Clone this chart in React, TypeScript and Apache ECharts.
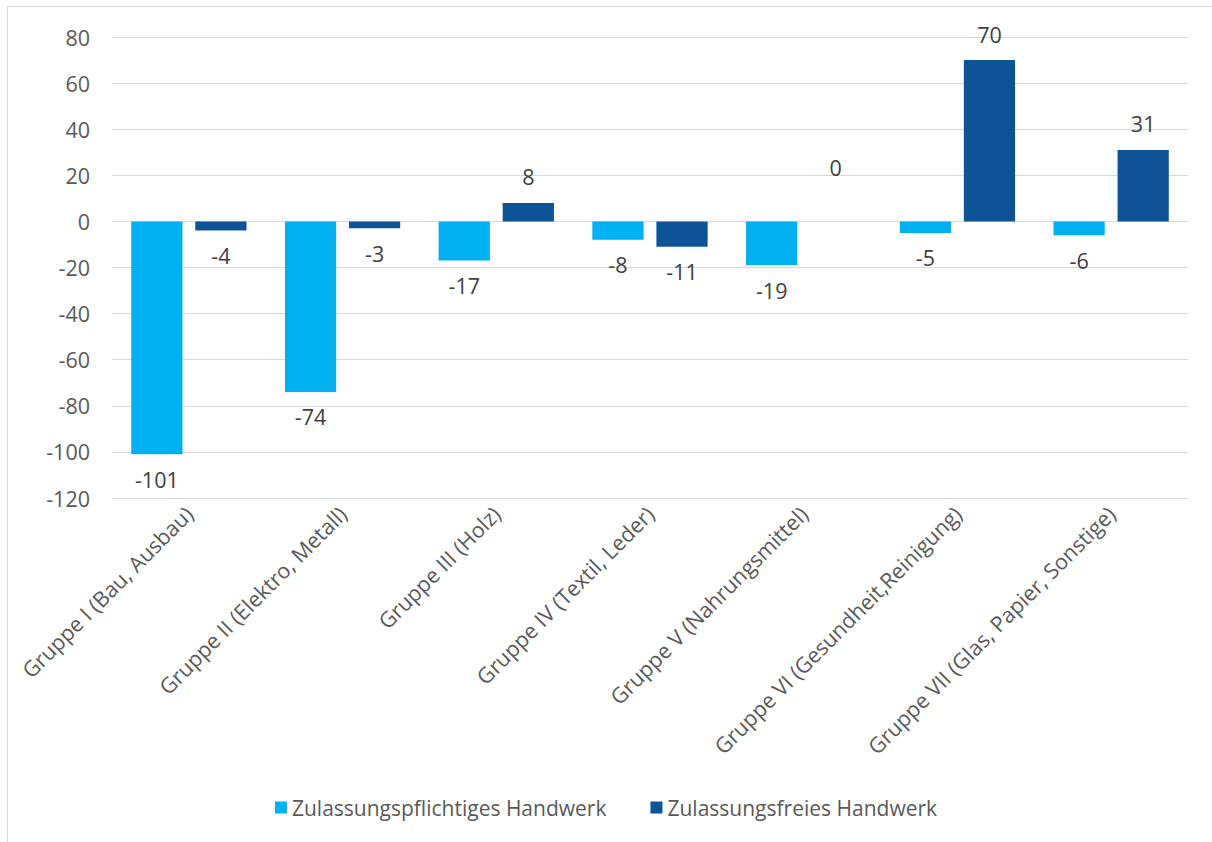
import React, { useEffect, useRef } from "react";
import * as echarts from "echarts";

const categories = [
  "Gruppe I (Bau, Ausbau)",
  "Gruppe II (Elektro, Metall)",
  "Gruppe III (Holz)",
  "Gruppe IV (Textil, Leder)",
  "Gruppe V (Nahrungsmittel)",
  "Gruppe VI (Gesundheit,Reinigung)",
  "Gruppe VII (Glas, Papier, Sonstige)",
];
const zulassungspflichtig = [-101, -74, -17, -8, -19, -5, -6];
const zulassungsfrei = [-4, -3, 8, -11, 0, 70, 31];
const seriesNames = ["Zulassungspflichtiges Handwerk", "Zulassungsfreies Handwerk"];
const colors = ["#00B0F0", "#0C5496"];

const FONT = "Open Sans";
const TXT = "#595959";
const FS = 21.5;

function makeData(values: number[]) {
  return values.map((v) => {
    if (v < 0) {
      return { value: v, label: { position: "bottom", distance: 14 } };
    }
    if (v === 0) {
      return { value: v, label: { position: "top", distance: 43 } };
    }
    return { value: v, label: { position: "top", distance: 15 } };
  });
}

export default function App() {
  const ref = useRef<HTMLDivElement>(null);
  useEffect(() => {
    document.body.style.margin = "0";
    const chart = echarts.init(ref.current!, null, { renderer: "svg" });
    const labelStyle = {
      show: true,
      color: "#404040",
      fontFamily: FONT,
      fontSize: FS,
    };
    chart.setOption({
      animation: false,
      backgroundColor: "#ffffff",
      textStyle: { fontFamily: FONT },
      color: colors,
      grid: { left: 112, right: 24, top: 37, bottom: 344, containLabel: false },
      legend: {
        top: 792,
        left: "center",
        itemWidth: 12,
        itemHeight: 12,
        itemGap: 44,
        icon: "rect",
        textStyle: { color: TXT, fontFamily: FONT, fontSize: 21 },
        data: seriesNames,
      },
      xAxis: {
        type: "category",
        data: categories,
        axisLine: { show: false },
        axisTick: { show: false },
        axisLabel: {
          rotate: 45,
          interval: 0,
          margin: 12,
          color: TXT,
          fontFamily: FONT,
          fontSize: FS,
        },
      },
      yAxis: {
        type: "value",
        min: -120,
        max: 80,
        interval: 20,
        axisLine: { show: false },
        axisTick: { show: false },
        splitLine: { lineStyle: { color: "#D9D9D9", width: 1 } },
        axisLabel: { color: TXT, fontFamily: FONT, fontSize: FS, margin: 22 },
      },
      series: [
        {
          name: seriesNames[0],
          type: "bar",
          data: makeData(zulassungspflichtig),
          barGap: "25%",
          barCategoryGap: "25%",
          label: labelStyle,
        },
        {
          name: seriesNames[1],
          type: "bar",
          data: makeData(zulassungsfrei),
          barGap: "25%",
          barCategoryGap: "25%",
          label: labelStyle,
        },
      ],
    });
    return () => chart.dispose();
  }, []);
  return (
    <div style={{ position: "fixed", left: 0, top: 0, width: 1212, height: 842, background: "#fff" }}>
      <div
        ref={ref}
        style={{ position: "absolute", left: 0, top: 0, width: 1212, height: 842 }}
      />
      <div
        style={{
          position: "absolute",
          left: 7,
          top: 6,
          width: 1300,
          height: 1000,
          borderLeft: "1px solid #D9D9D9",
          borderTop: "1px solid #D9D9D9",
          pointerEvents: "none",
        }}
      />
    </div>
  );
}
